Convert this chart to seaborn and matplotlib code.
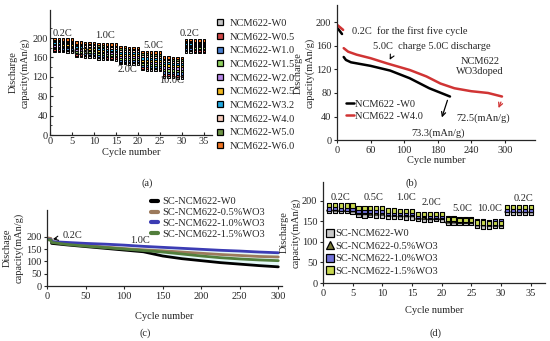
import numpy as np
import pandas as pd
import matplotlib
matplotlib.use("Agg")
import matplotlib.pyplot as plt
import seaborn as sns

# ---------------- data ----------------
cycles_a = list(range(1, 36))
series_a = ["NCM622-W0", "NCM622-W0.5", "NCM622-W1.0", "NCM622-W1.5", "NCM622-W2.0",
            "NCM622-W2.5", "NCM622-W3.2", "NCM622-W4.0", "NCM622-W5.0", "NCM622-W6.0"]
colors_a = ["#c4c4c4", "#d04848", "#4a80d0", "#90d060", "#b888e8",
            "#f0b820", "#20a8e0", "#f8ccbc", "#6e9446", "#f07422"]
cap_W0 = [173,174,173,172,172, 163,163,162,162,161, 158,158,157,157,156, 148,148,147,147,146, 136,135,135,134,134, 121,120,120,119,119, 172,172,171,171,171]
cap_W05 = [176,176,175,175,175, 166,166,165,165,165, 161,161,160,160,160, 151,151,150,150,150, 139,139,138,138,137, 125,124,124,123,123, 175,175,174,174,174]
cap_W10 = [179,179,178,178,178, 169,169,168,168,168, 164,164,163,163,163, 154,154,153,153,153, 142,142,141,141,141, 129,128,128,127,127, 178,178,177,177,177]
cap_W15 = [182,182,181,181,181, 172,172,171,171,171, 167,167,166,166,166, 158,158,157,157,157, 146,146,145,145,145, 134,133,133,132,132, 181,181,180,180,180]
cap_W20 = [185,185,184,184,184, 176,176,175,175,175, 171,171,170,170,170, 162,162,161,161,161, 150,150,149,149,149, 139,138,138,137,137, 184,184,183,183,183]
cap_W25 = [188,188,187,187,187, 179,179,178,178,178, 174,174,173,173,173, 166,166,165,165,165, 154,154,153,153,153, 144,143,143,142,142, 187,187,186,186,186]
cap_W32 = [191,191,190,190,190, 182,182,181,181,181, 177,177,176,176,176, 170,170,169,169,169, 158,158,157,157,157, 148,148,147,147,147, 189,189,188,188,188]
cap_W40 = [194,194,193,193,193, 186,186,185,185,185, 181,181,180,180,180, 174,174,173,173,173, 163,163,162,162,162, 153,153,152,152,152, 192,192,191,191,191]
cap_W50 = [196,196,195,195,195, 189,189,188,188,188, 185,185,184,184,184, 178,178,177,177,177, 167,167,166,166,166, 157,157,156,156,156, 194,194,193,193,193]
cap_W60 = [198,198,197,197,197, 191,191,190,190,190, 188,188,187,187,187, 181,181,180,180,180, 171,171,170,170,170, 160,160,159,159,159, 196,196,195,195,195]
caps_a = [cap_W0, cap_W05, cap_W10, cap_W15, cap_W20, cap_W25, cap_W32, cap_W40, cap_W50, cap_W60]
rate_labels_a = ["0.2C", "0.5C", "1.0C", "2.0C", "5.0C", "10.0C", "0.2C"]
rate_x_a = [2.8, 7.7, 12.6, 17.5, 23.4, 27.7, 31.8]
rate_y_a = [210, 170, 206, 136, 184, 113, 210]

# panel (b)
b_w0_02_x = [1, 5, 9]
b_w0_02_y = [190, 185, 180]
b_w4_02_x = [1, 6, 11]
b_w4_02_y = [195, 191, 187]
b_w0_x = [12, 16, 25, 60, 95, 130, 165, 202]
b_w0_y = [141, 136, 132, 126, 118, 105, 88, 74]
b_w4_x = [12, 20, 35, 60, 90, 130, 160, 185, 210, 240, 270, 295]
b_w4_y = [156, 150, 145, 139, 130, 119, 108, 96, 88, 83, 80, 74]
b_xticks = [0, 60, 120, 180, 240, 300]
b_xticklabels = ["0", "60", "100", "180", "240", "300"]

# panel (c)
c_x = [1, 5, 6, 25, 50, 75, 100, 125, 150, 175, 200, 225, 250, 275, 300]
c_w0 = [192, 190, 173, 167, 160, 153, 146, 139, 122, 111, 103, 95, 89, 83, 78]
c_w05 = [195, 193, 180, 172, 165, 158, 152, 147, 143, 138, 133, 128, 124, 120, 118]
c_w10 = [190, 188, 180, 177, 173, 170, 166, 161, 157, 153, 149, 145, 142, 138, 135]
c_w15 = [188, 186, 177, 169, 162, 156, 150, 144, 138, 130, 122, 115, 110, 106, 103]
c_names = ["SC-NCM622-W0", "SC-NCM622-0.5%WO3", "SC-NCM622-1.0%WO3", "SC-NCM622-1.5%WO3"]
c_colors = ["#000000", "#9c7a5c", "#3c3cb4", "#527e3c"]

# panel (d)
cycles_d = list(range(1, 36))
d_w0 = [174,175,174,174,173, 165,164,165,164,164, 160,160,160,159,159, 155,154,154,155,154, 146,146,145,145,145, 138,137,137,138,138, 171,171,170,170,170]
d_w05 = [180,180,179,179,178, 171,171,170,170,170, 167,167,166,166,166, 160,160,159,159,159, 151,151,150,150,150, 144,144,143,143,143, 177,177,176,176,176]
d_w10 = [181,182,181,181,180, 176,176,175,175,175, 170,170,169,169,169, 164,165,164,164,163, 157,157,156,156,156, 150,150,149,150,150, 178,178,177,177,177]
d_w15 = [189,189,188,188,188, 183,183,182,182,182, 176,176,175,175,175, 168,168,167,167,167, 155,155,154,154,154, 147,147,146,146,146, 185,185,184,184,184]
d_names = ["SC-NCM622-W0", "SC-NCM622-0.5%WO3", "SC-NCM622-1.0%WO3", "SC-NCM622-1.5%WO3"]
d_colors = ["#c8c8c8", "#7a7a3a", "#7070d8", "#c8d850"]
d_markers = ["s", "^", "s", "s"]
rate_labels_d = ["0.2C", "0.5C", "1.0C", "2.0C", "5.0C", "10.0C", "0.2C"]
rate_x_d = [3.0, 8.5, 14.0, 18.2, 23.5, 28.1, 33.7]
rate_y_d = [207, 207, 207, 195, 180, 180, 205]

# ---------------- style ----------------
sns.set_style("ticks")
plt.rcParams['font.family'] = ['Liberation Serif', 'DejaVu Serif']
plt.rcParams['font.size'] = 7.5
plt.rcParams['axes.linewidth'] = 0.9
plt.rcParams['xtick.labelsize'] = 7.5
plt.rcParams['ytick.labelsize'] = 7.5

fig = plt.figure(figsize=(5.5, 3.41), dpi=100)
fs = 7.5

def style_ax(ax, direction='out'):
    for s in ['top', 'right']:
        ax.spines[s].set_visible(False)
    ax.tick_params(direction=direction, length=2.5, width=0.8, pad=1.5, labelsize=fs)

# ---------------- panel (a) ----------------
axA = fig.add_axes([0.091, 0.604, 0.294, 0.367])
dfa = pd.DataFrame({
    "cycle": np.tile(cycles_a, len(series_a)),
    "cap": np.concatenate(caps_a),
    "series": np.repeat(series_a, len(cycles_a)),
})
sns.scatterplot(data=dfa, x="cycle", y="cap", hue="series", palette=colors_a,
                marker="s", s=3, edgecolor="black", linewidth=0.7, legend=False, ax=axA)
axA.set_xlim(0, 36.8)
axA.set_ylim(0, 258)
axA.set_xticks([0, 5, 10, 15, 20, 25, 30, 35])
axA.set_yticks([0, 40, 80, 120, 160, 200])
axA.set_yticks(range(20, 240, 40), minor=True)
style_ax(axA, 'in')
axA.tick_params(which='minor', direction='in', length=1.5, width=0.6)
axA.set_xlabel("Cycle number", fontsize=fs, labelpad=1)
axA.set_ylabel("Discharge\ncapacity(mAn/g)", fontsize=fs, labelpad=2, linespacing=1.3)
for t, x, y in zip(rate_labels_a, rate_x_a, rate_y_a):
    axA.text(x, y, t, fontsize=fs, ha='center', va='center')
hA = [plt.Line2D([], [], ls='', marker='s', ms=4.5, mfc=c, mec='black', mew=0.9) for c in colors_a]
fig.legend(hA, series_a, loc='upper left', bbox_to_anchor=(0.392, 0.945), frameon=False,
           fontsize=fs, handlelength=0.8, handletextpad=0.6, labelspacing=0.42, borderpad=0,
           borderaxespad=0)

# ---------------- panel (b) ----------------
axB = fig.add_axes([0.6127, 0.589, 0.36, 0.396])
dfb0 = pd.DataFrame({"x": b_w0_x, "y": b_w0_y})
dfb4 = pd.DataFrame({"x": b_w4_x, "y": b_w4_y})
sns.lineplot(data=pd.DataFrame({"x": b_w0_02_x, "y": b_w0_02_y}), x="x", y="y", color="black", lw=1.8, ax=axB)
sns.lineplot(data=pd.DataFrame({"x": b_w4_02_x, "y": b_w4_02_y}), x="x", y="y", color="#d03434", lw=1.8, ax=axB)
sns.lineplot(data=dfb0, x="x", y="y", color="black", lw=1.8, ax=axB, label="NCM622 -W0")
sns.lineplot(data=dfb4, x="x", y="y", color="#d03434", lw=1.8, ax=axB, label="NCM622 -W4.0")
axB.set_xlim(0, 354)
axB.set_ylim(0, 229)
axB.set_xticks(b_xticks)
axB.set_xticklabels(b_xticklabels)
axB.set_yticks([0, 40, 80, 120, 160, 200])
style_ax(axB)
axB.set_xlabel("Cycle number", fontsize=fs, labelpad=1)
axB.set_ylabel("Discharge\ncapacity(mAn/g)", fontsize=fs, labelpad=1, linespacing=1.3)
axB.text(27, 185, "0.2C  for the first five cycle", fontsize=fs, ha='left', va='center')
axB.text(65, 158, "5.0C  charge 5.0C discharge", fontsize=fs, ha='left', va='center')
axB.annotate("", xy=(92, 132), xytext=(99, 145),
             arrowprops=dict(arrowstyle='->', color='black', lw=0.8))
axB.text(256, 134, "NCM622", fontsize=fs, ha='center', va='center')
axB.text(256, 116, "WO3doped", fontsize=fs, ha='center', va='center')
axB.annotate("", xy=(186, 34), xytext=(199, 72),
             arrowprops=dict(arrowstyle='->', color='black', lw=0.9))
axB.text(181, 11, "73.3(mAn/g)", fontsize=fs, ha='center', va='center')
axB.annotate("", xy=(287, 50), xytext=(295, 69),
             arrowprops=dict(arrowstyle='->', color='#d03434', lw=0.9))
axB.text(262, 37, "72.5(mAn/g)", fontsize=fs, ha='center', va='center')
axB.legend(loc='upper left', bbox_to_anchor=(0.045, 0.30), frameon=False, fontsize=fs,
           handlelength=0.8, handletextpad=0.1, labelspacing=0.25, borderpad=0, borderaxespad=0)

# ---------------- panel (c) ----------------
axC = fig.add_axes([0.0855, 0.161, 0.4275, 0.223])
dfc = pd.DataFrame({
    "x": np.tile(c_x, 4),
    "y": np.concatenate([c_w0, c_w05, c_w10, c_w15]),
    "s": np.repeat(c_names, len(c_x)),
})
axC.fill_between(c_x, c_w0, c_w10, color="#e4f8f8", lw=0, zorder=0)
sns.lineplot(data=dfc, x="x", y="y", hue="s", palette=c_colors, lw=2.0, ax=axC, legend=False)
axC.set_xlim(0, 305)
axC.set_ylim(0, 308)
axC.set_xticks([0, 50, 100, 150, 200, 250, 300])
axC.set_yticks([0, 50, 100, 150, 200])
style_ax(axC)
axC.set_xlabel("Cycle number", fontsize=fs, labelpad=8)
axC.set_ylabel("Dischage\ncapacity(mAn/g)", fontsize=fs, labelpad=2, linespacing=1.3)
axC.annotate("0.2C", xy=(4, 188), xytext=(20, 204), fontsize=fs, ha='left', va='center',
             arrowprops=dict(arrowstyle='->', color='black', lw=0.8))
axC.text(121, 184, "1.0C", fontsize=fs, ha='center', va='center')
hC = [plt.Line2D([], [], color=c, lw=3) for c in c_colors]
fig.legend(hC, c_names, loc='upper left', bbox_to_anchor=(0.274, 0.422), frameon=False,
           fontsize=fs, handlelength=0.7, handletextpad=0.4, labelspacing=0.15, borderpad=0,
           borderaxespad=0)

# ---------------- panel (d) ----------------
axD = fig.add_axes([0.587, 0.170, 0.404, 0.296])
dfd = pd.DataFrame({
    "x": np.tile(cycles_d, 4),
    "y": np.concatenate([d_w0, d_w05, d_w10, d_w15]),
    "s": np.repeat(d_names, len(cycles_d)),
})
sns.scatterplot(data=dfd, x="x", y="y", hue="s", style="s", palette=d_colors,
                markers=dict(zip(d_names, d_markers)), s=9, edgecolor="black", linewidth=0.8,
                legend=False, ax=axD)
axD.set_xlim(0, 37.4)
axD.set_ylim(0, 245)
axD.set_xticks([0, 5, 10, 15, 20, 25, 30, 35])
axD.set_yticks([0, 50, 100, 150, 200])
style_ax(axD)
axD.set_xlabel("Cycle number", fontsize=fs, labelpad=6)
axD.set_ylabel("Discharge\ncapacity(mAn/g)", fontsize=fs, labelpad=1, linespacing=1.3)
for t, x, y in zip(rate_labels_d, rate_x_d, rate_y_d):
    axD.text(x, y, t, fontsize=fs, ha='center', va='center')
hD = [plt.Line2D([], [], ls='', marker=m, ms=5.5, mfc=c, mec='black', mew=0.9)
      for m, c in zip(d_markers, d_colors)]
fig.legend(hD, d_names, loc='upper left', bbox_to_anchor=(0.593, 0.328), frameon=False,
           fontsize=fs, handlelength=0.7, handletextpad=0.2, labelspacing=0.3, borderpad=0,
           borderaxespad=0)

# subplot captions
fig.text(146.7 / 550, 1 - 183 / 341, "(a)", fontsize=fs, ha='center', va='center')
fig.text(411.7 / 550, 1 - 183 / 341, "(b)", fontsize=fs, ha='center', va='center')
fig.text(145 / 550, 1 - 333 / 341, "(c)", fontsize=fs, ha='center', va='center')
fig.text(435 / 550, 1 - 333 / 341, "(d)", fontsize=fs, ha='center', va='center')

fig.savefig("out.png", dpi=100)
